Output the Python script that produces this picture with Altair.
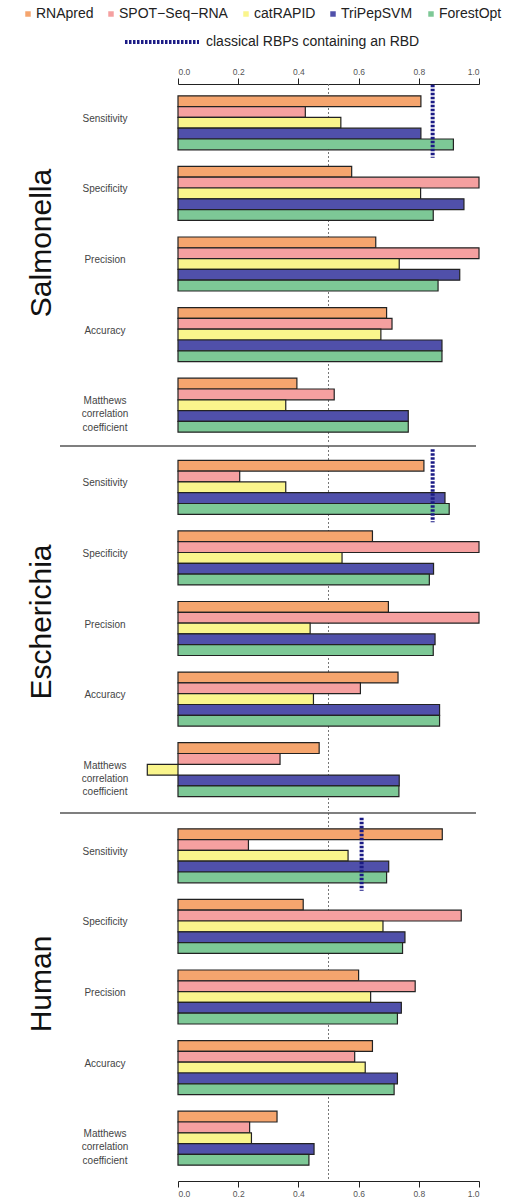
import altair as alt
import pandas as pd

FONT = "Liberation Sans"

methods = ["RNApred", "SPOT−Seq−RNA", "catRAPID", "TriPepSVM", "ForestOpt"]
method_colors = ["#F5A56E", "#F5A0A0", "#FAF58C", "#5050AA", "#7DC896"]
metrics = ["Sensitivity", "Specificity", "Precision", "Accuracy",
           "Matthews\ncorrelation\ncoefficient"]
organisms = ["Salmonella", "Escherichia", "Human"]

# values per metric (Sensitivity, Specificity, Precision, Accuracy, MCC)
sal_rnapred = [0.807, 0.577, 0.657, 0.693, 0.395]
sal_spot = [0.423, 1.000, 1.000, 0.711, 0.519]
sal_catrapid = [0.541, 0.806, 0.735, 0.674, 0.358]
sal_tripepsvm = [0.807, 0.950, 0.936, 0.877, 0.765]
sal_forestopt = [0.915, 0.848, 0.864, 0.877, 0.765]

eco_rnapred = [0.817, 0.646, 0.699, 0.731, 0.469]
eco_spot = [0.205, 1.000, 1.000, 0.606, 0.339]
eco_catrapid = [0.358, 0.545, 0.439, 0.450, -0.102]
eco_tripepsvm = [0.887, 0.849, 0.854, 0.869, 0.735]
eco_forestopt = [0.901, 0.835, 0.848, 0.869, 0.734]

hum_rnapred = [0.878, 0.416, 0.600, 0.646, 0.329]
hum_spot = [0.234, 0.941, 0.788, 0.587, 0.238]
hum_catrapid = [0.565, 0.681, 0.640, 0.622, 0.244]
hum_tripepsvm = [0.700, 0.754, 0.742, 0.729, 0.452]
hum_forestopt = [0.693, 0.746, 0.729, 0.718, 0.435]

rbd_label = "classical RBPs containing an RBD"
rbd_organisms = ["Salmonella", "Escherichia", "Human"]
rbd_metrics = ["Sensitivity", "Sensitivity", "Sensitivity"]
rbd_values = [0.846, 0.846, 0.610]

reference_line = [0.5]
tick_values = [0.0, 0.2, 0.4, 0.6, 0.8, 1.0]

# legend layout (pixels, relative to the plot's left edge)
legend_symbol_x = [-150, -67, 68, 155, 253]
legend_row_y = [-70, -42]
rbd_swatch_x = [-53, 21]

series = {
    "Salmonella": [sal_rnapred, sal_spot, sal_catrapid, sal_tripepsvm, sal_forestopt],
    "Escherichia": [eco_rnapred, eco_spot, eco_catrapid, eco_tripepsvm, eco_forestopt],
    "Human": [hum_rnapred, hum_spot, hum_catrapid, hum_tripepsvm, hum_forestopt],
}
rows = []
for org in organisms:
    for m, vals in zip(methods, series[org]):
        for met, v in zip(metrics, vals):
            rows.append({"organism": org, "method": m, "metric": met, "value": v})
bars_df = pd.DataFrame(rows)
rbd_df = pd.DataFrame({"organism": rbd_organisms, "metric": rbd_metrics,
                       "value": rbd_values, "label": [rbd_label] * 3})
legend_df = pd.DataFrame({"method": methods, "lx": legend_symbol_x})

STEP = 70.6
BAR_H = 10.8
WIDTH = 301
panel_heights = {"Salmonella": 360, "Escherichia": 365, "Human": 368}
org_label_y = {"Salmonella": 159, "Escherichia": 176, "Human": 171}

xscale = alt.Scale(domain=[0, 1], nice=False, zero=True)
color_scale = alt.Scale(domain=methods, range=method_colors)


def make_axis(orient):
    return alt.Axis(orient=orient, values=tick_values, format=".1f", grid=False,
                    labelFontSize=8.5, labelColor="#555", labelFont=FONT,
                    tickSize=6, tickColor="#222", domainColor="#222",
                    labelPadding=2, title=None)


def panel(org, idx):
    H = panel_heights[org]
    o = (H / STEP - 5) / 2
    yscale = alt.Scale(domain=metrics, paddingInner=0, paddingOuter=o)
    if idx == 0:
        xaxis = make_axis("top")
    elif idx == 2:
        xaxis = make_axis("bottom")
    else:
        xaxis = None

    odf = bars_df[bars_df.organism == org]
    bar_layers = []
    for i, m in enumerate(methods):
        bar_layers.append(
            alt.Chart(odf[odf.method == m]).mark_bar(
                stroke="#222", strokeWidth=1.2, size=BAR_H, yOffset=(i - 2) * BAR_H
            ).encode(
                x=alt.X("value:Q", scale=xscale, axis=xaxis),
                y=alt.Y("metric:N", scale=yscale, axis=None),
                color=alt.Color("method:N", scale=color_scale, legend=None),
            )
        )
    half = alt.Chart(pd.DataFrame({"value": reference_line})).mark_rule(
        color="#777", strokeDash=[2, 2], strokeWidth=1
    ).encode(x=alt.X("value:Q", scale=xscale, axis=xaxis))
    rbd = alt.Chart(rbd_df[rbd_df.organism == org]).mark_rule(
        color="#1B1B85", strokeWidth=4, strokeDash=[2.5, 1.5], yOffset=-38, y2Offset=35
    ).encode(
        x=alt.X("value:Q", scale=xscale, axis=xaxis),
        y=alt.Y("metric:N", scale=yscale, axis=None),
        y2=alt.Y2("metric"),
    )
    mlab = alt.Chart(pd.DataFrame({"metric": metrics})).mark_text(
        fontSize=10, lineBreak="\n", lineHeight=13.3, align="center",
        baseline="middle", color="#444", font=FONT, dy=-4
    ).encode(
        text="metric:N",
        y=alt.Y("metric:N", scale=yscale, axis=None),
        x=alt.value(-73),
    )
    olab = alt.Chart(pd.DataFrame({"organism": [org]})).mark_text(
        angle=270, fontSize=30, font=FONT, align="center", baseline="middle", color="#111"
    ).encode(text="organism:N", x=alt.value(-136), y=alt.value(org_label_y[org]))
    layers = [half] + bar_layers + [rbd, mlab, olab]
    if idx > 0:
        sep = alt.Chart(pd.DataFrame({"organism": [org]})).mark_rule(
            color="#555", strokeWidth=1.5
        ).encode(x=alt.value(-118), x2=alt.value(298), y=alt.value(0))
        layers.append(sep)
    else:
        leg_sq = alt.Chart(legend_df).mark_square(size=30, opacity=1).encode(
            x=alt.X("lx:Q", scale=None, axis=None),
            y=alt.value(legend_row_y[0]),
            color=alt.Color("method:N", scale=color_scale, legend=None),
        )
        leg_tx = alt.Chart(legend_df).mark_text(
            align="left", baseline="middle", fontSize=14, font=FONT, color="#222", dx=8
        ).encode(
            x=alt.X("lx:Q", scale=None, axis=None),
            y=alt.value(legend_row_y[0]),
            text="method:N",
        )
        leg_rule = alt.Chart(pd.DataFrame({"label": [rbd_label]})).mark_rule(
            color="#1B1B85", strokeWidth=4, strokeDash=[2.5, 1.5]
        ).encode(x=alt.value(rbd_swatch_x[0]), x2=alt.value(rbd_swatch_x[1]),
                 y=alt.value(legend_row_y[1]))
        leg_rtx = alt.Chart(pd.DataFrame({"label": [rbd_label]})).mark_text(
            align="left", baseline="middle", fontSize=14, font=FONT, color="#222"
        ).encode(x=alt.value(rbd_swatch_x[1] + 7), y=alt.value(legend_row_y[1]),
                 text="label:N")
        layers += [leg_sq, leg_tx, leg_rule, leg_rtx]
    return alt.layer(*layers).properties(width=WIDTH, height=H)


chart = alt.vconcat(*[panel(org, i) for i, org in enumerate(organisms)], spacing=0).resolve_scale(
    y="independent"
).properties(
    padding={"left": 25, "top": 7, "right": 0, "bottom": 0}
).configure(font=FONT, view=alt.ViewConfig(stroke=None))

chart.save("out.html", embed_options={"renderer": "svg", "actions": False})
